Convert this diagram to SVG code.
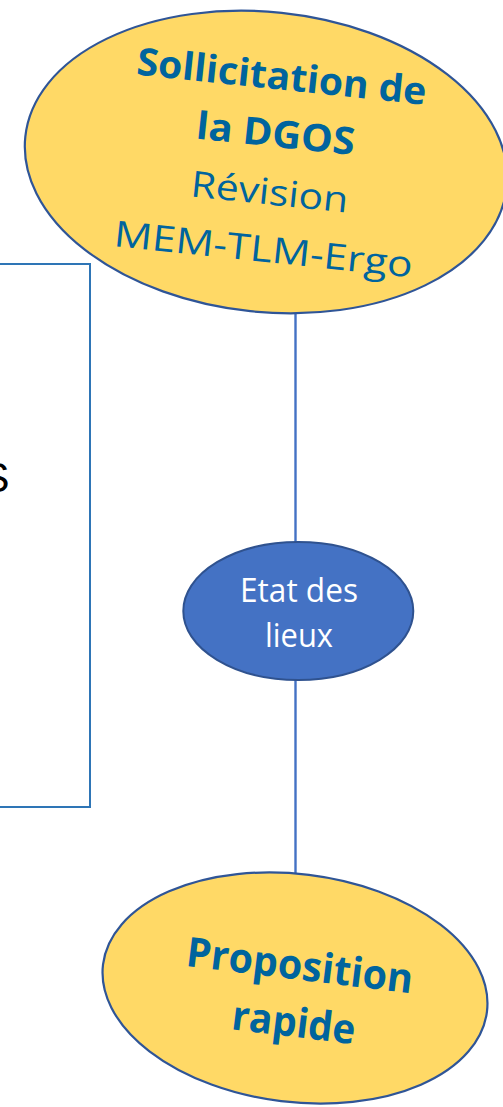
<svg xmlns="http://www.w3.org/2000/svg" width="503" height="1107" viewBox="0 0 503 1107">
<style>
.yel{fill:#FFD966;stroke:#2F5597;stroke-width:2.2}
.blu{fill:#4472C4;stroke:#2F528F;stroke-width:2}
.tb{font-family:"Open Sans","Noto Sans",sans-serif;font-weight:bold;fill:#00649E;text-anchor:middle}
.tr{font-family:"Open Sans","Noto Sans",sans-serif;font-weight:normal;fill:#00649E;text-anchor:middle}
.tw{font-family:"Open Sans","Noto Sans",sans-serif;fill:#FFFFFF;text-anchor:middle}
.conn{stroke:#4472C4;stroke-width:2.4;fill:none}
</style>
<rect width="503" height="1107" fill="#FFFFFF"/>
<g id="side-box">
<rect x="-5" y="264" width="95" height="543" fill="none" stroke="#2E75B6" stroke-width="2"/>
<text x="-18.5" y="492" font-family="Liberation Sans, sans-serif" font-size="42" fill="#000000">S</text>
</g>
<g id="connectors">
<line class="conn" x1="295.5" y1="313" x2="295.5" y2="542"/>
<line class="conn" x1="295.5" y1="680" x2="295.5" y2="873"/>
</g>
<g id="node-dgos" transform="rotate(6 266 162)">
<ellipse class="yel" cx="266" cy="162" rx="242" ry="150"/>
<text class="tb" x="272.7" y="88.5" font-size="38" textLength="291" lengthAdjust="spacingAndGlyphs">Sollicitation de</text>
<text class="tb" x="272.7" y="146" font-size="38" textLength="159" lengthAdjust="spacingAndGlyphs">la DGOS</text>
<text class="tr" x="272.7" y="204" font-size="36" textLength="158" lengthAdjust="spacingAndGlyphs">Révision</text>
<text class="tr" x="272.7" y="261.5" font-size="36" textLength="300" lengthAdjust="spacingAndGlyphs">MEM-TLM-Ergo</text>
</g>
<g id="node-etat">
<ellipse class="blu" cx="298.3" cy="611" rx="115" ry="69"/>
<text class="tw" x="299" y="601.7" font-size="32" textLength="118" lengthAdjust="spacingAndGlyphs">Etat des</text>
<text class="tw" x="299" y="646.7" font-size="32" textLength="68" lengthAdjust="spacingAndGlyphs">lieux</text>
</g>
<g id="node-proposition" transform="rotate(7 295 988)">
<ellipse class="yel" cx="295" cy="988" rx="193.4" ry="114"/>
<text class="tb" x="297" y="979.3" font-size="41" textLength="228" lengthAdjust="spacingAndGlyphs">Proposition</text>
<text class="tb" x="298" y="1036.7" font-size="41" textLength="124" lengthAdjust="spacingAndGlyphs">rapide</text>
</g>
</svg>
